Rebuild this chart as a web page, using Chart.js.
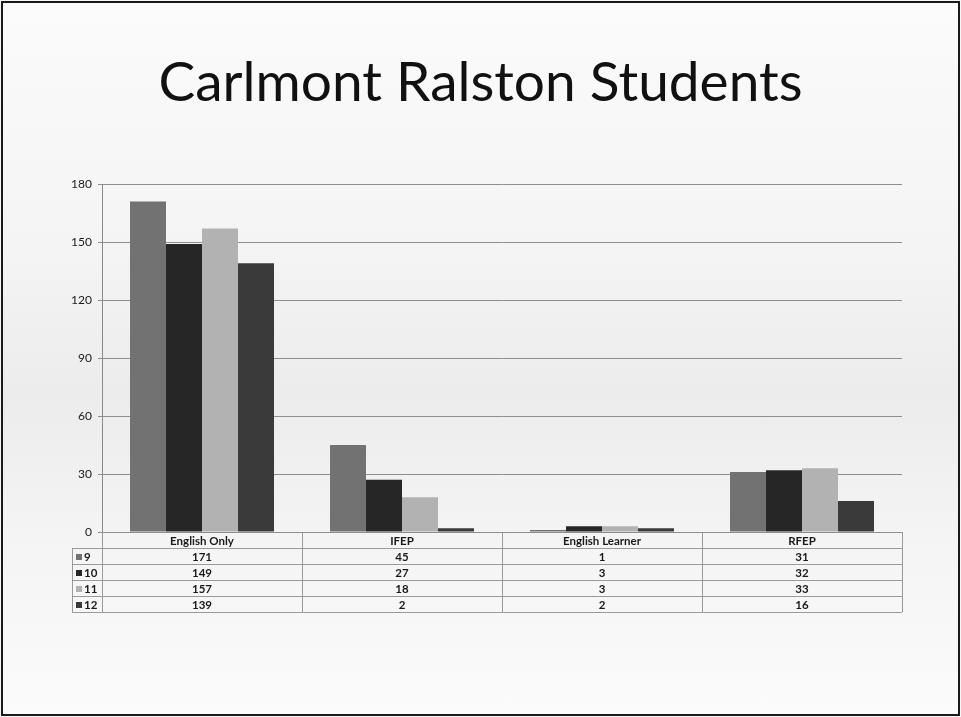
<!DOCTYPE html>
<html>
<head>
<meta charset="utf-8">
<script src="https://cdn.jsdelivr.net/npm/chart.js@4.4.1/dist/chart.umd.min.js"></script>
<style>
  body { margin: 0; background: #f7f7f7; }
  #frame {
    position: absolute; left: 1px; top: 1px; width: 955px; height: 711px;
    border: 2px solid #1a1a1a;
    background: linear-gradient(#fbfbfb 0%, #f4f4f4 35%, #ececec 55%, #f4f4f4 75%, #fbfbfb 100%);
  }
  #title {
    position: absolute; left: 0; top: 47px; width: 961px; text-align: center;
    font-family: Lato, "Open Sans", sans-serif; font-size: 55px; color: #111;
    line-height: 66px;
  }
  #wrap { position: absolute; left: 0; top: 0; width: 961px; height: 717px; }
</style>
</head>
<body>
<div id="frame"></div>
<div id="title">Carlmont Ralston Students</div>
<div id="wrap"><canvas id="studentsChart" width="961" height="717"></canvas></div>
<script>
const categories = ['English Only', 'IFEP', 'English Learner', 'RFEP'];
const grades = ['9', '10', '11', '12'];
const grade9 = [171, 45, 1, 31];
const grade10 = [149, 27, 3, 32];
const grade11 = [157, 18, 3, 33];
const grade12 = [139, 2, 2, 16];
const yTicks = [0, 30, 60, 90, 120, 150, 180];

const barColors = ['#727272', '#262626', '#b2b2b2', '#3a3a3a'];
const font = 'Lato, "Open Sans", sans-serif';

// data table under the plot, drawn from the x scale positions
const dataTable = {
    id: 'dataTable',
    afterDraw(chart) {
        const ctx = chart.ctx;
        const area = chart.chartArea;
        const xs = chart.scales.x;
        const half = (xs.getPixelForValue(1) - xs.getPixelForValue(0)) / 2;
        const rowH = 16;
        const labelLeft = area.left - 30;
        const top = area.bottom;
        const bottom = top + rowH * (grades.length + 1);
        const series = chart.data.datasets;

        ctx.save();
        ctx.strokeStyle = '#9a9a9a';
        ctx.lineWidth = 1;
        ctx.beginPath();
        // horizontal lines
        for (let r = 1; r <= grades.length + 1; r++) {
            const y = Math.round(top + rowH * r) + 0.5;
            ctx.moveTo(labelLeft, y);
            ctx.lineTo(area.right, y);
        }
        // vertical lines
        ctx.moveTo(labelLeft + 0.5, top + rowH);
        ctx.lineTo(labelLeft + 0.5, bottom);
        for (let i = 0; i <= categories.length; i++) {
            const x = Math.round(xs.getPixelForValue(i) - half) + 0.5;
            ctx.moveTo(x, top);
            ctx.lineTo(x, bottom);
        }
        ctx.stroke();

        ctx.fillStyle = '#1a1a1a';
        ctx.font = 'bold 11.5px ' + font;
        ctx.textAlign = 'center';
        ctx.textBaseline = 'middle';
        categories.forEach((c, i) => {
            ctx.fillText(c, xs.getPixelForValue(i), top + rowH / 2 + 1);
        });
        series.forEach((ds, r) => {
            const cy = top + rowH * (r + 1) + rowH / 2 + 1;
            ctx.fillStyle = ds.backgroundColor;
            ctx.fillRect(labelLeft + 4, cy - 3, 6, 6);
            ctx.fillStyle = '#1a1a1a';
            ctx.textAlign = 'left';
            ctx.fillText(ds.label, labelLeft + 12, cy);
            ctx.textAlign = 'center';
            ds.data.forEach((v, i) => {
                ctx.fillText(String(v), xs.getPixelForValue(i), cy);
            });
        });
        ctx.restore();
    }
};

const ctx = document.getElementById('studentsChart').getContext('2d');
const chart = new Chart(ctx, {
    type: 'bar',
    data: {
        labels: categories,
        datasets: [
            { label: grades[0], data: grade9, backgroundColor: barColors[0] },
            { label: grades[1], data: grade10, backgroundColor: barColors[1] },
            { label: grades[2], data: grade11, backgroundColor: barColors[2] },
            { label: grades[3], data: grade12, backgroundColor: barColors[3] }
        ]
    },
    options: {
        responsive: false,
        animation: false,
        layout: { padding: { left: 0, right: 59, top: 184, bottom: 185 } },
        datasets: { bar: { categoryPercentage: 0.72, barPercentage: 1.0 } },
        plugins: {
            legend: { display: false },
            tooltip: { enabled: false },
            title: { display: false }
        },
        scales: {
            x: {
                display: false
            },
            y: {
                min: 0,
                max: yTicks[yTicks.length - 1],
                afterFit(scale) { scale.width = 102; },
                afterBuildTicks(scale) { scale.ticks = yTicks.map(v => ({ value: v })); },
                border: { color: '#8a8a8a' },
                grid: { color: '#8e8e8e', tickLength: 4 },
                ticks: {
                    color: '#1a1a1a',
                    padding: 6,
                    font: { family: font, size: 12 }
                }
            }
        }
    },
    plugins: [dataTable]
});
</script>
</body>
</html>
